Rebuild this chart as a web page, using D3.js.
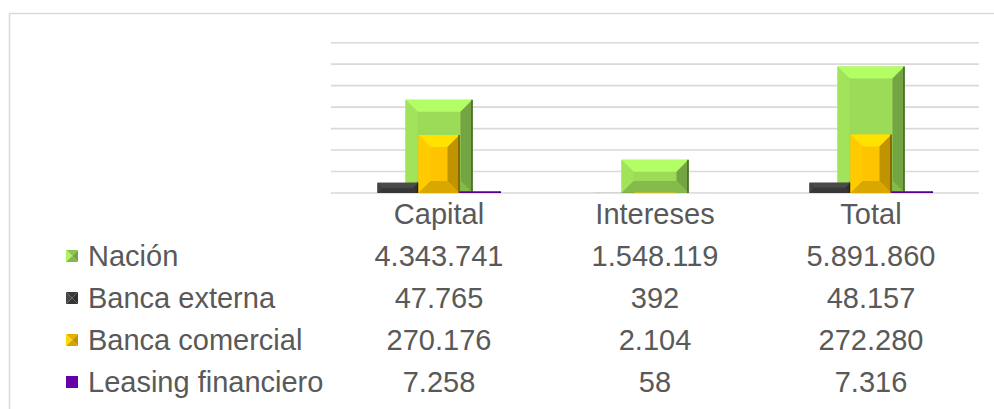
<!DOCTYPE html>
<html>
<head>
<meta charset="utf-8">
<script src="https://cdn.jsdelivr.net/npm/d3@7"></script>
<style>
  html, body { margin: 0; padding: 0; background: #fff; }
  svg { display: block; font-family: "Liberation Sans", Arial, sans-serif; }
</style>
</head>
<body>
<div id="chart"></div>
<script>
// data
const categories = ["Capital", "Intereses", "Total"];
const seriesNames = ["Nación", "Banca externa", "Banca comercial", "Leasing financiero"];
const nacion = [4343741, 1548119, 5891860];
const bancaExterna = [47765, 392, 48157];
const bancaComercial = [270176, 2104, 272280];
const leasing = [7258, 58, 7316];
const seriesColors = ["#9bdb58", "#404040", "#ffc400", "#6600a8"];

class BevelBarTable {
    constructor(element, configs) {
        this.ele = d3.select(element);
        let defaultConfig = {
            width: 994,
            height: 409,
            plotLeft: 331,
            plotRight: 979,
            plotTop: 42.7,
            plotBottom: 193,
            rowStart: 256,
            rowStep: 42,
            fontSize: 29,
            textColor: "#595959"
        };
        this.config = Object.assign({}, defaultConfig, configs);
        this.initScales();
        this.generateMain();
        this.drawGrid();
        this.drawBars();
        this.drawTable();
    }

    initScales() {
        let c = this.config;
        this.x = d3.scaleBand().domain(categories).range([c.plotLeft, c.plotRight]);
        // primary axis for Nación, secondary axis for the rest
        this.yMain = d3.scaleLinear().domain([0, 7000000]).range([c.plotBottom, c.plotTop]);
        this.ySec = d3.scaleLinear().domain([0, 700000]).range([c.plotBottom, c.plotTop]);
        this.mainWidth = this.x.bandwidth() * 0.31;
        this.secWidth = this.x.bandwidth() * 0.19;
        this.inner = d3.scaleBand().domain(seriesNames.slice(1))
            .range([-1.5 * this.secWidth, 1.5 * this.secWidth]);
    }

    generateMain() {
        let c = this.config;
        this.svg = this.ele.append("svg")
            .attr("width", c.width)
            .attr("height", c.height);

        // chart frame, only top and left show
        this.svg.append("path")
            .attr("d", "M9.5," + c.height + " V13.5 H" + c.width)
            .attr("fill", "none")
            .attr("stroke", "#d9d9d9")
            .attr("stroke-width", 1.5);
    }

    drawGrid() {
        let c = this.config;
        this.svg.append("g")
            .selectAll("line")
            .data(this.yMain.ticks(7))
            .enter()
            .append("line")
            .attr("x1", c.plotLeft)
            .attr("x2", c.plotRight)
            .attr("y1", d => this.yMain(d))
            .attr("y2", d => this.yMain(d))
            .attr("stroke", "#d9d9d9")
            .attr("stroke-width", 1.6);
    }

    // bar with an angled bevel on all four sides
    bevelBar(g, x, y, w, h, color) {
        if (h <= 0) return;
        let base = d3.color(color);
        let b = Math.min(12, w / 3, h / 2.2);
        let poly = pts => pts.map(p => p.join(",")).join(" ");
        g.append("rect").attr("x", x).attr("y", y).attr("width", w).attr("height", h)
            .attr("fill", base.formatHex());
        if (h < 1.5) return;
        g.append("polygon")
            .attr("points", poly([[x, y], [x + w, y], [x + w - b, y + b], [x + b, y + b]]))
            .attr("fill", base.brighter(0.4).formatHex());
        g.append("polygon")
            .attr("points", poly([[x, y], [x + b, y + b], [x + b, y + h - b], [x, y + h]]))
            .attr("fill", base.brighter(0.1).formatHex());
        g.append("polygon")
            .attr("points", poly([[x + w, y], [x + w - b, y + b], [x + w - b, y + h - b], [x + w, y + h]]))
            .attr("fill", base.darker(0.8).formatHex());
        g.append("polygon")
            .attr("points", poly([[x, y + h], [x + b, y + h - b], [x + w - b, y + h - b], [x + w, y + h]]))
            .attr("fill", base.darker(0.45).formatHex());
        g.append("line")
            .attr("x1", x + w - 0.5).attr("x2", x + w - 0.5)
            .attr("y1", y).attr("y2", y + h)
            .attr("stroke", base.darker(2.2).formatHex())
            .attr("stroke-width", 1.5);
    }

    drawBars() {
        let c = this.config;
        let g = this.svg.append("g");
        let secSeries = [bancaExterna, bancaComercial, leasing];

        categories.forEach((cat, i) => {
            let cx = this.x(cat) + this.x.bandwidth() / 2;
            // Nación on the primary axis
            let yTop = this.yMain(nacion[i]);
            this.bevelBar(g, cx - this.mainWidth / 2, yTop, this.mainWidth, c.plotBottom - yTop, seriesColors[0]);
            // the others on the secondary axis, drawn in front
            secSeries.forEach((vals, k) => {
                let name = seriesNames[k + 1];
                let top = this.ySec(vals[i]);
                this.bevelBar(g, cx + this.inner(name), top, this.inner.bandwidth(), c.plotBottom - top, seriesColors[k + 1]);
            });
        });
    }

    drawTable() {
        let c = this.config;
        let fmt = d3.formatLocale({decimal: ",", thousands: ".", grouping: [3], currency: ["$", ""]}).format(",d");
        let rows = [nacion, bancaExterna, bancaComercial, leasing];
        let g = this.svg.append("g")
            .attr("font-size", c.fontSize)
            .attr("fill", c.textColor);

        g.selectAll("text.cat")
            .data(categories)
            .enter()
            .append("text")
            .attr("class", "cat")
            .attr("x", d => this.x(d) + this.x.bandwidth() / 2)
            .attr("y", 214)
            .attr("dy", "0.35em")
            .attr("text-anchor", "middle")
            .text(d => d);

        rows.forEach((vals, r) => {
            let y = c.rowStart + r * c.rowStep;
            // legend key
            let key = this.svg.append("g");
            if (r < 3) {
                this.bevelKey(key, 66, y - 6, 12, seriesColors[r]);
            } else {
                key.append("rect").attr("x", 66).attr("y", y - 6).attr("width", 12).attr("height", 12)
                    .attr("fill", seriesColors[r]);
            }
            g.append("text")
                .attr("x", 88)
                .attr("y", y)
                .attr("dy", "0.35em")
                .text(seriesNames[r]);

            g.selectAll(null)
                .data(vals)
                .enter()
                .append("text")
                .attr("x", (d, i) => this.x(categories[i]) + this.x.bandwidth() / 2)
                .attr("y", y)
                .attr("dy", "0.35em")
                .attr("text-anchor", "middle")
                .text(d => fmt(d));
        });
    }

    // small pyramid style legend key
    bevelKey(g, x, y, s, color) {
        let base = d3.color(color);
        let m = s / 2;
        let poly = pts => pts.map(p => p.join(",")).join(" ");
        g.append("polygon").attr("points", poly([[x, y], [x + s, y], [x + m, y + m]]))
            .attr("fill", base.darker(0.3).formatHex());
        g.append("polygon").attr("points", poly([[x, y], [x + m, y + m], [x, y + s]]))
            .attr("fill", base.brighter(0.3).formatHex());
        g.append("polygon").attr("points", poly([[x + s, y], [x + m, y + m], [x + s, y + s]]))
            .attr("fill", base.darker(0.8).formatHex());
        g.append("polygon").attr("points", poly([[x, y + s], [x + m, y + m], [x + s, y + s]]))
            .attr("fill", base.darker(0.5).formatHex());
    }
}

new BevelBarTable("#chart", {});
</script>
</body>
</html>
